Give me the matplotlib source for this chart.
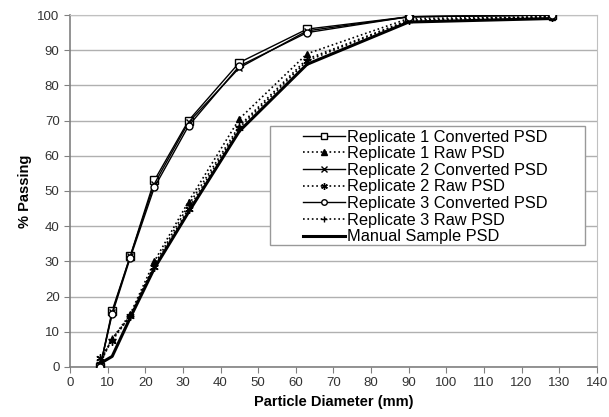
import numpy as np
import matplotlib.pyplot as plt
from matplotlib.patches import Rectangle

plt.rcParams['font.family'] = ['Liberation Sans', 'DejaVu Sans']

# sieve sizes (mm)
diam = [8, 11.2, 16, 22.4, 31.5, 45, 63, 90, 128]

rep1_conv = [0, 16, 31.5, 53, 70, 86.5, 96, 99.5, 100]
rep1_raw = [1, 8, 15, 30, 47, 70.5, 89, 99, 99.5]
rep2_conv = [0, 15.5, 31.5, 52, 69.5, 85, 95.5, 99.5, 100]
rep2_raw = [2.5, 7.5, 14.5, 28.5, 45, 68, 87, 98.5, 99.5]
rep3_conv = [0, 15, 31, 51, 68.5, 85.5, 95, 99.5, 100]
rep3_raw = [1.5, 8, 14.5, 29, 46, 68.5, 87.5, 98.5, 99.5]
manual = [1, 3, 14, 28, 44, 67, 86, 98, 99]

fig = plt.figure(figsize=(6.09, 4.17), dpi=100)
ax = fig.add_axes([0.115, 0.12, 0.865, 0.844])

ax.plot(diam, manual, '-', color='black', lw=2.2, label='Manual Sample PSD', zorder=2)
ax.plot(diam, rep1_raw, ':', color='black', lw=1.2, marker='^', ms=5,
        mfc='black', label='Replicate 1 Raw PSD', zorder=3)
ax.plot(diam, rep2_raw, ':', color='black', lw=1.2, marker=(6, 2, 0), ms=6,
        label='Replicate 2 Raw PSD', zorder=3)
ax.plot(diam, rep3_raw, ':', color='black', lw=1.2, marker='+', ms=6,
        label='Replicate 3 Raw PSD', zorder=3)
ax.plot(diam, rep1_conv, '-', color='black', lw=1.0, marker='s', ms=6,
        mfc='white', label='Replicate 1 Converted PSD', zorder=4)
ax.plot(diam, rep2_conv, '-', color='black', lw=1.0, marker='x', ms=5,
        label='Replicate 2 Converted PSD', zorder=4)
ax.plot(diam, rep3_conv, '-', color='black', lw=1.0, marker='o', ms=5,
        mfc='white', label='Replicate 3 Converted PSD', zorder=4)

ax.set_xlim(0, 140)
ax.set_ylim(0, 100)
ax.set_xticks(np.arange(0, 141, 10))
ax.set_yticks(np.arange(0, 101, 10))
ax.grid(axis='y', color='#b0b0b0', lw=1.0)
ax.set_axisbelow(True)
for s in ['top', 'right']:
    ax.spines[s].set_color('#c0c0c0')
for s in ['left', 'bottom']:
    ax.spines[s].set_color('#808080')
    ax.spines[s].set_linewidth(1.2)
ax.tick_params(direction='out', length=4, color='#808080', labelsize=9.5,
               labelcolor='#333333')

ax.set_xlabel('Particle Diameter (mm)', fontsize=10.5, fontweight='bold')
ax.set_ylabel('% Passing', fontsize=10.5, fontweight='bold')

# legend box drawn separately so it can be wider than the entries
ax.add_patch(Rectangle((0.3795, 0.347), 0.5975, 0.338, transform=ax.transAxes,
                       facecolor='white', edgecolor='#999999', lw=1.0, zorder=5))

h, l = ax.get_legend_handles_labels()
order = ['Replicate 1 Converted PSD', 'Replicate 1 Raw PSD',
         'Replicate 2 Converted PSD', 'Replicate 2 Raw PSD',
         'Replicate 3 Converted PSD', 'Replicate 3 Raw PSD',
         'Manual Sample PSD']
hd = dict(zip(l, h))
leg = ax.legend([hd[k] for k in order], order, loc='upper left',
                bbox_to_anchor=(0.436, 0.684), fontsize=11.8, frameon=False,
                handlelength=2.56, labelspacing=0.1, borderpad=0.2,
                handletextpad=0.15, borderaxespad=0, markerscale=0.8)
leg.set_zorder(6)

fig.savefig('out.png', dpi=100)
